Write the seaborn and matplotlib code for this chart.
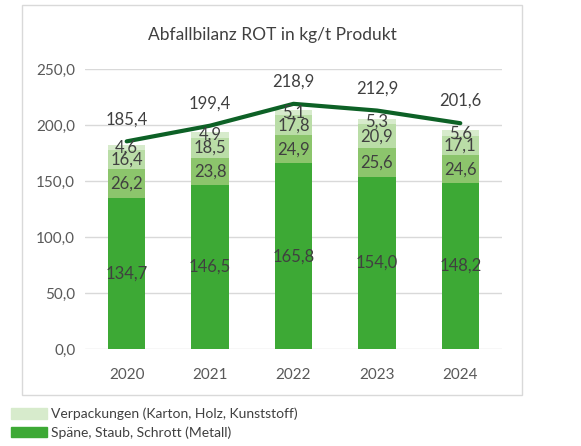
import numpy as np
import pandas as pd
import seaborn as sns
import matplotlib.pyplot as plt
from matplotlib.patches import Patch, Rectangle

# data
years = ['2020', '2021', '2022', '2023', '2024']
spaene = [134.7, 146.5, 165.8, 154.0, 148.2]
serie2 = [26.2, 23.8, 24.9, 25.6, 24.6]
serie3 = [16.4, 18.5, 17.8, 20.9, 17.1]
verpackungen = [4.6, 4.9, 5.1, 5.3, 5.6]
gesamt = [185.4, 199.4, 218.9, 212.9, 201.6]

series = [spaene, serie2, serie3, verpackungen]
colors = ['#3DA935', '#8CC56C', '#BADDA7', '#D7EBCC']

sns.set_theme(style='white')
plt.rcParams['font.family'] = ['Lato', 'DejaVu Sans']

fig = plt.figure(figsize=(5.81, 4.46), dpi=100)
ax = fig.add_axes([85/581, 1 - 349/446, 417/581, 280/446])

# stacked bars: draw cumulative heights from the top down
cum = np.cumsum(np.array(series), axis=0)
for i in range(len(series) - 1, -1, -1):
    df = pd.DataFrame({'year': years, 'val': cum[i]})
    sns.barplot(data=df, x='year', y='val', color=colors[i], width=0.45,
                saturation=1, linewidth=0, edgecolor='none', ax=ax, zorder=2)

# segment labels
for i, s in enumerate(series):
    base = cum[i] - np.array(s)
    for j, v in enumerate(s):
        ax.text(j, base[j] + v / 2, f'{v:.1f}'.replace('.', ','), ha='center', va='center',
                fontsize=12, color='#404040', zorder=4)

# total line
sns.lineplot(x=np.arange(len(years)), y=gesamt, color='#0D6126', linewidth=3, ax=ax, zorder=3)
for j, v in enumerate(gesamt):
    ax.annotate(f'{v:.1f}'.replace('.', ','), (j, v), xytext=(0, 16), textcoords='offset points',
                ha='center', va='center', fontsize=12, color='#404040')

ax.set_ylim(0, 250)
ax.set_xlim(-0.5, 4.5)
ax.set_yticks(np.arange(0, 251, 50))
ax.set_yticklabels([f'{t:.1f}'.replace('.', ',') for t in np.arange(0, 251, 50)])
ax.yaxis.grid(True, color='#D9D9D9', linewidth=1)
ax.set_axisbelow(True)
for sp in ax.spines.values():
    sp.set_visible(False)
ax.tick_params(axis='both', length=0, labelsize=11, labelcolor='#595959')
ax.tick_params(axis='x', pad=14)
ax.tick_params(axis='y', pad=7)
ax.set_xlabel('')
ax.set_ylabel('')

fig.text(272/581, 1 - 35/446, 'Abfallbilanz ROT in kg/t Produkt', ha='center', va='center',
         fontsize=12.5, color='#404040')

# chart border
fig.patches.append(Rectangle((22/581, 1 - 395/446), 500/581, 390/446, transform=fig.transFigure,
                             fill=False, edgecolor='#D9D9D9', linewidth=1))

handles = [Patch(color=colors[3]), Patch(color=colors[0])]
labels = ['Verpackungen (Karton, Holz, Kunststoff)', 'Späne, Staub, Schrott (Metall)']
fig.legend(handles, labels, loc='upper left', bbox_to_anchor=(5/581, 1 - 402/446), frameon=False,
           fontsize=10, labelcolor='#404040', handlelength=2.6, handleheight=0.8,
           handletextpad=0.3, labelspacing=0.45, borderaxespad=0)

fig.savefig('out.png', dpi=100)
